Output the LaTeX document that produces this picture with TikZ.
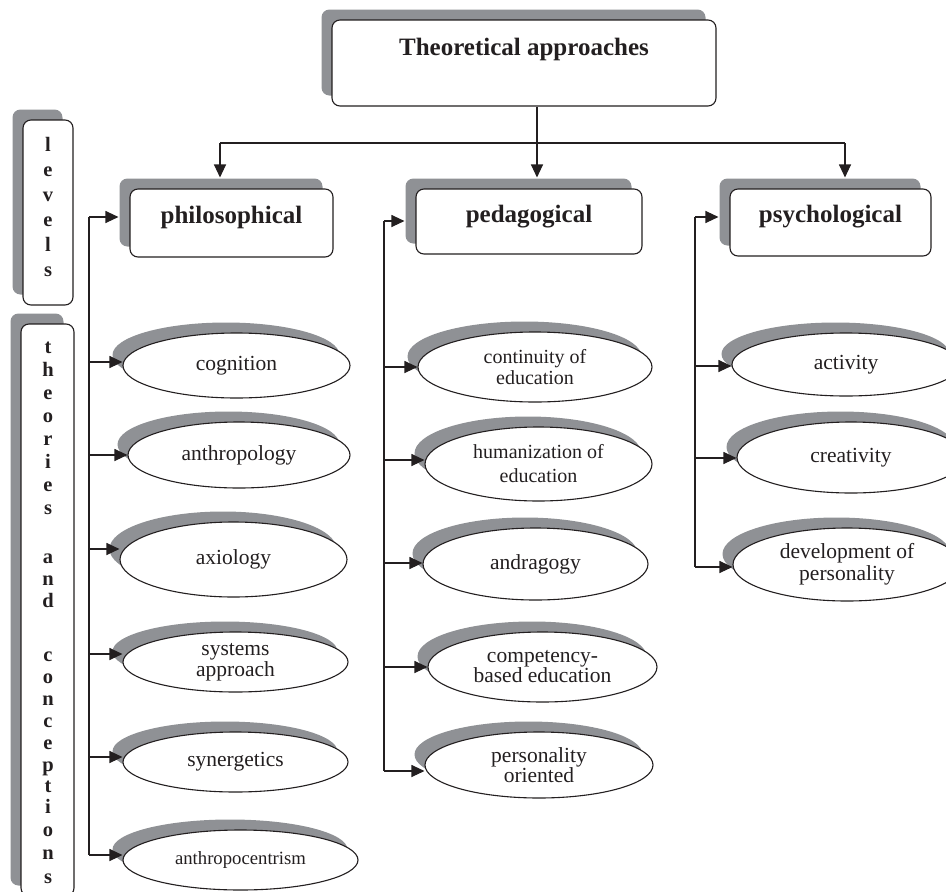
\documentclass[tikz,border=0pt]{standalone}
\usepackage{fontspec}
\setmainfont{Liberation Serif}
\usetikzlibrary{shapes.geometric,shadows,arrows.meta}
\definecolor{shgray}{RGB}{143,145,149}
\definecolor{ink}{RGB}{35,31,32}
\begin{document}
\begin{tikzpicture}[x=1pt,y=-1pt,
  shadowed/.style={drop shadow={shadow xshift=-10.5pt,shadow yshift=10.5pt,fill=shgray,opacity=1}},
  lvlbox/.style={draw=ink,line width=1.1pt,fill=white,rounded corners=8pt,shadowed,inner sep=0pt,
    font=\fontsize{25}{30}\selectfont\bfseries,text=ink},
  ell/.style={ellipse,draw=ink,line width=1.1pt,fill=white,shadowed,inner sep=0pt,align=center,
    font=\fontsize{21.5}{20}\selectfont,text=ink},
  arr/.style={draw=ink,line width=1.1pt,-{Triangle[length=13pt,width=12pt]}},
  ln/.style={draw=ink,line width=1.1pt},
  vlet/.style={anchor=base,inner sep=0pt,font=\fontsize{20.5}{20}\selectfont\bfseries,text=ink}]
\useasboundingbox (0,0) rectangle (946,892);
\fill[white] (0,0) rectangle (946,892);

% title and level boxes
\node[lvlbox,minimum width=384pt,text height=35pt,text depth=51pt] (top) at (524,63) {Theoretical approaches};
\node[lvlbox,minimum width=203pt,text height=34pt,text depth=34pt] (ph) at (231.5,223) {philosophical};
\node[lvlbox,minimum width=226pt,text height=33pt,text depth=32pt] (pe) at (529,221.5) {pedagogical};
\node[lvlbox,minimum width=201pt,text height=33.5pt,text depth=33.5pt] (ps) at (830.5,222.5) {psychological};

% side boxes
\node[lvlbox,minimum width=50pt,minimum height=185pt] (lv) at (48,212.5) {};
\node[lvlbox,minimum width=53pt,minimum height=572pt] (th) at (47.5,610) {};
\foreach \c/\yy [count=\i] in {l/145,e/170,v/195,e/220,l/245,s/270}
  \node[vlet] (lvl\i) at (48,{\yy+6}) {\c};
\foreach \c/\yy [count=\i] in {t/347,h/370,e/393,o/416,r/439,i/462,e/485,s/508,
    a/557,n/579,d/601,c/655,o/677,n/699,c/721,e/743,p/765,t/786,i/807,o/830,n/853,s/877}
  \node[vlet] (thl\i) at (48,{\yy+6}) {\c};

% philosophical theories
\node[ell,minimum width=227pt,minimum height=65pt] (c1) at (236.5,365.5) {cognition};
\node[ell,minimum width=222pt,minimum height=66pt] (c2) at (239,455) {anthropology};
\node[ell,minimum width=227pt,minimum height=75pt] (c3) at (233.5,559.5) {axiology};
\node[ell,minimum width=225pt,minimum height=60pt,font=\fontsize{21.5}{18}\selectfont] (c4) at (235.5,662) {systems\\approach};
\node[ell,minimum width=225pt,minimum height=60pt] (c5) at (235.5,762) {synergetics};
\node[ell,minimum width=235pt,minimum height=60pt,font=\fontsize{18.7}{20}\selectfont] (c6) at (240.5,860) {anthropocentrism};

% pedagogical theories
\node[ell,minimum width=234pt,minimum height=70pt,font=\fontsize{20}{21}\selectfont] (p1) at (535,367) {continuity of\\education};
\node[ell,minimum width=227pt,minimum height=74pt,font=\fontsize{20}{24}\selectfont] (p2) at (538.5,464) {humanization of\\education};
\node[ell,minimum width=225pt,minimum height=72pt] (p3) at (535.5,564) {andragogy};
\node[ell,minimum width=229pt,minimum height=70pt] (p4) at (542.5,667) {competency-\\based education};
\node[ell,minimum width=228pt,minimum height=66pt,font=\fontsize{21.5}{18}\selectfont] (p5) at (539,765) {personality\\oriented};

% psychological theories
\node[ell,minimum width=228pt,minimum height=63pt] (s1) at (846,364.5) {activity};
\node[ell,minimum width=228pt,minimum height=71pt] (s2) at (851,457.5) {creativity};
\node[ell,minimum width=228pt,minimum height=73pt,font=\fontsize{21.5}{22}\selectfont] (s3) at (847,564.5) {development of\\personality};

% top connectors
\coordinate (hl) at (220,143);
\coordinate (hr) at (845,143);
\coordinate (tb) at ([xshift=13pt]top.south);
\coordinate (phN) at ([yshift=11pt]ph.north);
\coordinate (peN) at ([yshift=11pt]pe.north);
\coordinate (psN) at ([yshift=11pt]ps.north);
\draw[ln] (tb) -- (tb |- hl);
\draw[ln] (hl) -- (hr);
\draw[arr] (hl) -- (hl |- phN);
\draw[arr] (tb |- hl) -- (tb |- peN);
\draw[arr] (hr) -- (hr |- psN);

% feed lines to level boxes
\coordinate (phv) at (89,217);
\coordinate (pev) at (384,221);
\coordinate (psv) at (695,217);
\coordinate (phW) at ([xshift=-11pt]ph.west);
\coordinate (peW) at ([xshift=-11pt]pe.west);
\coordinate (psW) at ([xshift=-11pt]ps.west);
\draw[arr] (phv) -- (phv -| phW);
\draw[arr] (pev) -- (pev -| peW);
\draw[arr] (psv) -- (psv -| psW);

% arrows to ellipses
\foreach \n/\s in {c1/3.5,c2/0,c3/10.5,c4/8,c5/5,c6/5}{
  \coordinate (a\n) at ([yshift=\s pt]\n.west);
  \draw[arr] (a\n -| phv) -- (a\n);
}
\foreach \n/\s in {p1/0,p2/4,p3/1,p4/0,p5/-6}{
  \coordinate (a\n) at ([yshift=\s pt]\n.west);
  \draw[arr] (a\n -| pev) -- (a\n);
}
\foreach \n/\s in {s1/-1.5,s2/-0.5,s3/-2.5}{
  \coordinate (a\n) at ([yshift=\s pt]\n.west);
  \draw[arr] (a\n -| psv) -- (a\n);
}
\draw[ln] (phv) -- (ac6 -| phv);
\draw[ln] (pev) -- (ap5 -| pev);
\draw[ln] (psv) -- (as3 -| psv);
\end{tikzpicture}
\end{document}
